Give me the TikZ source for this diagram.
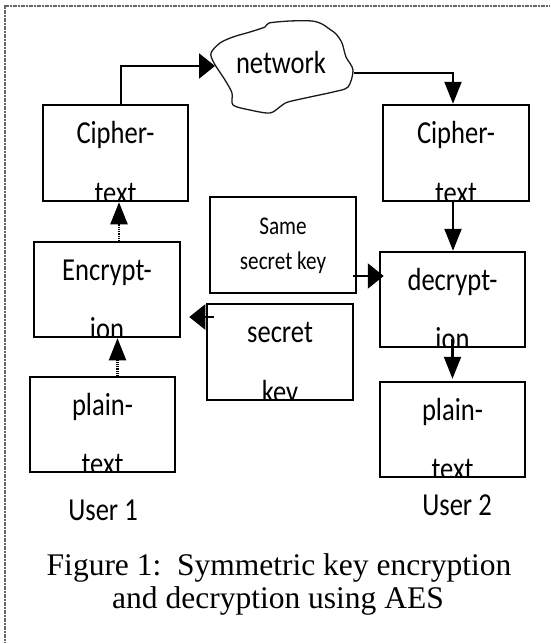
\documentclass[tikz,border=0pt]{standalone}
\usepackage{fontspec}
\setmainfont{Liberation Serif}
\newfontfamily\boxfont[FakeStretch=0.83]{Carlito}
\usetikzlibrary{arrows.meta}

% text of a box, clipped to its inside so the second line sits on the bottom edge
\newcommand\cliplabel[3]{%
  \begin{scope}
    \clip ([xshift=1.2pt,yshift=1.2pt]#1.south west) rectangle ([xshift=-1.2pt,yshift=-1.2pt]#1.north east);
    \node[lbl] (#1-a) at ([yshift=-40pt]#1.north) {#2};
    \node[lbl] (#1-b) at ([yshift=-1pt]#1.south) {#3};
  \end{scope}}

\begin{document}
\begin{tikzpicture}[x=1pt,y=-1pt,
  box/.style={draw, line width=2.5pt, inner sep=0pt},
  lbl/.style={font=\boxfont\fontsize{32}{34}\selectfont, inner sep=0pt, anchor=base},
  small/.style={font=\boxfont\fontsize{25.5}{28}\selectfont, inner sep=0pt, anchor=base},
  captext/.style={font=\fontsize{31.5}{33}\selectfont, inner sep=0pt, anchor=base},
  harr/.style={line width=2.2pt, -{Triangle[length=16pt,width=25pt]}},
  varr/.style={line width=2.2pt, -{Triangle[length=22pt,width=17pt]}},
  dotted shaft/.style={dash pattern=on 1pt off 0.8pt},
  frame/.style={line width=1.3pt, black!60, dash pattern=on 1.2pt off 0.4pt},
  cloudline/.style={line width=1.3pt, black!90, line join=round}]

\useasboundingbox (0,0) rectangle (550,643);

% outer frame (top and left edges)
\draw[frame] (550,6) -- (5,6) -- (5,643);

% network cloud
\draw[cloudline] plot[smooth cycle, tension=0.5] coordinates {
  (211,53) (220,43) (233,37) (250,32) (265,27) (269,23) (290,21) (312,21)
  (322,24) (328,28) (336,34) (342,43) (346,57) (353,70) (348,87) (333,92) (310,97)
  (288,102) (281,106) (270,113) (250,110) (233,105) (232,93) (225,80) (214,63)};
\node[lbl] (net) at (281,73) {network};
\coordinate (netin) at (215,66);
\coordinate (netout) at (354,73);

% boxes
\node[box, minimum width=145pt, minimum height=96pt] (ct1) at (115.5,153) {};
\node[box, minimum width=146pt, minimum height=96pt] (ct2) at (456,153) {};
\node[box, minimum width=146pt, minimum height=95pt] (enc) at (107,289.5) {};
\node[box, minimum width=146pt, minimum height=96pt] (same) at (283,245) {};
\node[box, minimum width=145pt, minimum height=95pt] (dec) at (452.5,299.5) {};
\node[box, minimum width=146pt, minimum height=96pt] (sk) at (280,352) {};
\node[box, minimum width=145pt, minimum height=95pt] (pt1) at (102.5,424.5) {};
\node[box, minimum width=145pt, minimum height=95pt] (pt2) at (452.5,429.5) {};

\cliplabel{ct1}{Cipher-}{text}
\cliplabel{ct2}{Cipher-}{text}
\cliplabel{enc}{Encrypt-}{ion}
\cliplabel{dec}{decrypt-}{ion}
\cliplabel{sk}{secret}{key}
\cliplabel{pt1}{plain-}{text}
\cliplabel{pt2}{plain-}{text}
\node[small] (same-a) at (283,234) {Same};
\node[small] (same-b) at (283,269) {secret key};

% connectors
\draw[harr] ([xshift=5.5pt]ct1.north) |- (netin);
\draw[varr] (netout) -| ([xshift=-3pt]ct2.north);
\draw[varr, dotted shaft] ([xshift=12pt]enc.north) -- ([xshift=12pt]enc.north |- ct1.south);
\draw[varr, dotted shaft] ([xshift=15pt]pt1.north) -- ([xshift=15pt]pt1.north |- enc.south);
\draw[harr] ([xshift=8pt,yshift=35pt]sk.west) -- ([xshift=8pt,yshift=35pt]sk.west -| enc.east);
\draw[harr] ([xshift=-4pt,yshift=-31pt]same.east) -- ([xshift=5pt,yshift=-31pt]same.east -| dec.west);
\draw[varr] ([xshift=-3pt]ct2.south) -- ([xshift=-3pt]ct2.south |- dec.north);
\draw[varr] ([yshift=9pt]dec.south) -- ([yshift=2pt]dec.south |- pt2.north);

% user labels
\node[lbl] (u1) at (103,520) {User 1};
\node[lbl] (u2) at (457,515) {User 2};

% caption
\node[captext] (cap1) at (279,575) {Figure 1:\ \ Symmetric key encryption};
\node[captext] (cap2) at (278,608) {and decryption using AES};
\end{tikzpicture}
\end{document}
